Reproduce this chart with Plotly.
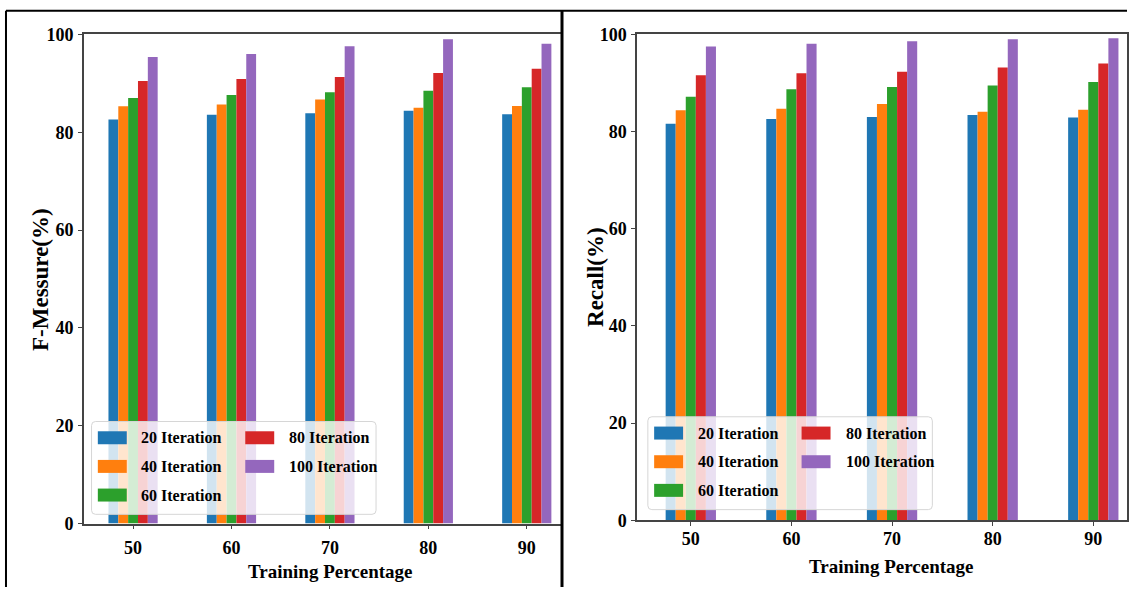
import plotly.graph_objects as go

W, H = 1129, 597

# ---- data -----------------------------------------------------------------
training_pct = [50, 60, 70, 80, 90]
series_names = ["20 Iteration", "40 Iteration", "60 Iteration", "80 Iteration", "100 Iteration"]
colors = ["#1f77b4", "#ff7f0e", "#2ca02c", "#d62728", "#9467bd"]

fmeasure_20 = [82.6, 83.6, 83.9, 84.4, 83.7]
fmeasure_40 = [85.3, 85.7, 86.7, 85.0, 85.4]
fmeasure_60 = [87.0, 87.6, 88.2, 88.5, 89.2]
fmeasure_80 = [90.5, 90.9, 91.3, 92.1, 93.0]
fmeasure_100 = [95.4, 96.0, 97.6, 99.0, 98.1]

recall_20 = [81.6, 82.6, 83.0, 83.4, 82.9]
recall_40 = [84.4, 84.7, 85.7, 84.1, 84.5]
recall_60 = [87.2, 88.7, 89.2, 89.5, 90.2]
recall_80 = [91.6, 92.0, 92.3, 93.2, 94.0]
recall_100 = [97.5, 98.1, 98.6, 99.0, 99.2]

y_ticks = [0, 20, 40, 60, 80, 100]

fmeasure = [fmeasure_20, fmeasure_40, fmeasure_60, fmeasure_80, fmeasure_100]
recall = [recall_20, recall_40, recall_60, recall_80, recall_100]

# ---- helpers: page pixel -> paper fraction --------------------------------
# the plot div starts ~9.5px below the page top and is drawn ~578px tall
TOP_OFF, H_EFF = 9.5, 578.0


def fx(px):
    return px / W


def fy(py):
    return min(1.0, 1 - (py - TOP_OFF) / H_EFF)


FONT = "Liberation Serif, Times New Roman, serif"

fig = go.Figure()

for name, color, vals in zip(series_names, colors, fmeasure):
    fig.add_trace(go.Bar(x=training_pct, y=vals, name=name, marker=dict(color=color, line=dict(width=0)),
                         xaxis="x", yaxis="y", showlegend=False))
for name, color, vals in zip(series_names, colors, recall):
    fig.add_trace(go.Bar(x=training_pct, y=vals, name=name, marker=dict(color=color, line=dict(width=0)),
                         xaxis="x2", yaxis="y2", showlegend=False))

axis_common = dict(
    showline=True, linecolor="#444", linewidth=1.5, mirror=True,
    ticks="outside", ticklen=4, tickwidth=1.2, tickcolor="#444",
    showgrid=False, zeroline=False,
    tickfont=dict(family=FONT, size=18, color="black", weight="bold"),
)

fig.update_layout(
    width=W, height=H,
    margin=dict(l=0, r=0, t=0, b=0),
    paper_bgcolor="white", plot_bgcolor="white",
    barmode="group", bargap=0.5, bargroupgap=0,
    xaxis=dict(domain=[fx(84), fx(577)], range=[45, 95], anchor="y",
               tickvals=training_pct, ticklabelstandoff=3, **axis_common),
    yaxis=dict(domain=[fy(524), fy(34)], range=[0, 100], anchor="x",
               tickvals=y_ticks, ticklabelstandoff=1, **axis_common),
    xaxis2=dict(domain=[fx(638.3), 1], range=[44.67, 93.35], anchor="y2",
                tickvals=training_pct, ticklabelstandoff=-3, **axis_common),
    yaxis2=dict(domain=[fy(520.7), fy(34)], range=[0, 100], anchor="x2",
                tickvals=y_ticks, ticklabelstandoff=1, **axis_common),
)

shapes = []
annotations = []

# white strip hiding the overflow of the left axes
shapes.append(dict(type="rect", xref="paper", yref="paper", layer="above",
                   x0=fx(563), x1=fx(586), y0=0, y1=1,
                   fillcolor="white", line=dict(width=0)))

# axis titles
title_font = dict(family=FONT, size=19, color="black", weight="bold")
ylabel_font = dict(family=FONT, size=23, color="black", weight="bold")
annotations += [
    dict(text="Training Percentage", x=fx(331), y=fy(572), xref="paper", yref="paper",
         showarrow=False, xanchor="center", yanchor="middle", font=title_font),
    dict(text="Training Percentage", x=fx(893), y=fy(567), xref="paper", yref="paper",
         showarrow=False, xanchor="center", yanchor="middle", font=title_font),
    dict(text="F-Messure(%)", x=fx(40), y=fy(279), xref="paper", yref="paper", textangle=-90,
         showarrow=False, xanchor="center", yanchor="middle", font=ylabel_font),
    dict(text="Recall(%)", x=fx(596), y=fy(277), xref="paper", yref="paper", textangle=-90,
         showarrow=False, xanchor="center", yanchor="middle", font=ylabel_font),
]


# two-column legend box, drawn over the bars
def add_legend(left, top):
    bw, bh, r = 285, 93, 4
    x0, x1, y0, y1 = left, left + bw, top, top + bh
    path = (f"M{fx(x0 + r)},{fy(y0)} L{fx(x1 - r)},{fy(y0)} Q{fx(x1)},{fy(y0)} {fx(x1)},{fy(y0 + r)} "
            f"L{fx(x1)},{fy(y1 - r)} Q{fx(x1)},{fy(y1)} {fx(x1 - r)},{fy(y1)} "
            f"L{fx(x0 + r)},{fy(y1)} Q{fx(x0)},{fy(y1)} {fx(x0)},{fy(y1 - r)} "
            f"L{fx(x0)},{fy(y0 + r)} Q{fx(x0)},{fy(y0)} {fx(x0 + r)},{fy(y0)} Z")
    shapes.append(dict(type="path", path=path, xref="paper", yref="paper", layer="above",
                       fillcolor="rgba(255,255,255,0.8)", line=dict(color="#d6d6d6", width=1)))
    rows = [16.3, 45.0, 73.7]
    cols = [(6.3, 48.0), (154.0, 196.0)]
    slots = [(0, 0), (0, 1), (0, 2), (1, 0), (1, 1)]
    for (ci, ri), name, color in zip(slots, series_names, colors):
        pxo, txo = cols[ci]
        cy = top + rows[ri]
        shapes.append(dict(type="rect", xref="paper", yref="paper", layer="above",
                           x0=fx(left + pxo), x1=fx(left + pxo + 29),
                           y0=fy(cy + 6.5), y1=fy(cy - 6.5),
                           fillcolor=color, line=dict(width=0)))
        annotations.append(dict(text=name, x=fx(left + txo), y=fy(cy), xref="paper", yref="paper",
                                showarrow=False, xanchor="left", yanchor="middle",
                                font=dict(family=FONT, size=16, color="black", weight="bold")))


add_legend(91.7, 421.7)
add_legend(649, 417)

# panel frames
frame = dict(color="black", width=2)
top_y = 0.9985
shapes += [
    dict(type="line", xref="paper", yref="paper", layer="above", x0=fx(6), x1=fx(1129), y0=top_y, y1=top_y, line=frame),
    dict(type="line", xref="paper", yref="paper", layer="above", x0=fx(6), x1=fx(6), y0=top_y, y1=0, line=frame),
    dict(type="line", xref="paper", yref="paper", layer="above", x0=fx(563), x1=fx(563), y0=top_y, y1=0,
         line=dict(color="black", width=3)),
]

fig.update_layout(shapes=shapes, annotations=annotations)
fig.write_html("out.html")
